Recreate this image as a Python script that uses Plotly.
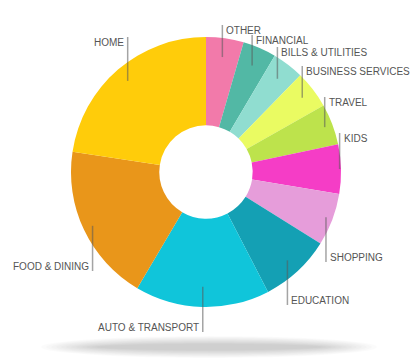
import math
import plotly.graph_objects as go

# ---- data ----
labels = ["OTHER", "FINANCIAL", "BILLS & UTILITIES", "BUSINESS SERVICES", "TRAVEL",
          "KIDS", "SHOPPING", "EDUCATION", "AUTO & TRANSPORT", "FOOD & DINING", "HOME"]
values = [4.5, 4.0, 3.8, 4.5, 4.9, 5.9, 6.3, 8.5, 16.1, 18.9, 22.6]
colors = ["#F27AAA", "#52B8A5", "#90DDD0", "#EAFB62", "#BDE34C",
          "#F53DC6", "#E69DDA", "#14A0B4", "#10C5DA", "#E9961A", "#FFCC0A"]

# ---- layout parameters (pixels) ----
W, H = 417, 363
cx, cy, R = 206, 172, 135
hole = 0.346
leader_r = [0.86, 0.86, 0.87, 0.90, 0.94, 0.99, 0.95, 0.89, 0.85, 0.93, 0.89]
leader_end = [25, 35, 47, 66, 97, 133, 262, 305, 332, 271, 37]

fig = go.Figure()
fig.add_trace(go.Pie(
    labels=labels, values=values, sort=False, direction="clockwise", rotation=0,
    hole=hole, textinfo="none", hoverinfo="label+percent",
    marker=dict(colors=colors, line=dict(width=0)),
    domain=dict(x=[(cx - R) / W, (cx + R) / W],
                y=[(H - cy - R) / H, (H - cy + R) / H]),
    showlegend=False,
))

shapes = []
# soft shadow under the chart
for k in range(12):
    hw = 168 - k * 5
    hh = 11 - k * 0.7
    shapes.append(dict(type="circle", xref="x", yref="y", layer="below",
                       x0=209 - hw, x1=209 + hw, y0=347 - hh, y1=347 + hh,
                       fillcolor="rgba(0,0,0,0.016)", line=dict(width=0)))

annotations = []
total = sum(values)
cum = 0.0
for i, (lab, v) in enumerate(zip(labels, values)):
    mid = (cum + v / 2) / total * 2 * math.pi
    cum += v
    r = leader_r[i] * R
    x0 = cx + r * math.sin(mid)
    y0 = cy - r * math.cos(mid)
    ye = leader_end[i]
    shapes.append(dict(type="line", xref="x", yref="y", layer="above",
                       x0=x0, x1=x0, y0=y0, y1=ye,
                       line=dict(color="rgba(90,90,90,0.55)", width=1.5)))
    up = ye < y0
    ty = ye + 5 if up else ye - 5
    left = mid > math.pi
    annotations.append(dict(
        x=x0 - 2 if left else x0 + 2, y=ty, xref="x", yref="y",
        text=lab, showarrow=False,
        xanchor="right" if left else "left", yanchor="middle",
        font=dict(family="Liberation Sans, Arial, sans-serif", size=10, color="#555555"),
    ))

fig.update_layout(
    width=W, height=H, margin=dict(l=0, r=0, t=0, b=0),
    paper_bgcolor="white", plot_bgcolor="white",
    xaxis=dict(range=[0, W], visible=False, fixedrange=True),
    yaxis=dict(range=[H, 0], visible=False, fixedrange=True),
    shapes=shapes, annotations=annotations,
)

fig.write_html("out.html")
